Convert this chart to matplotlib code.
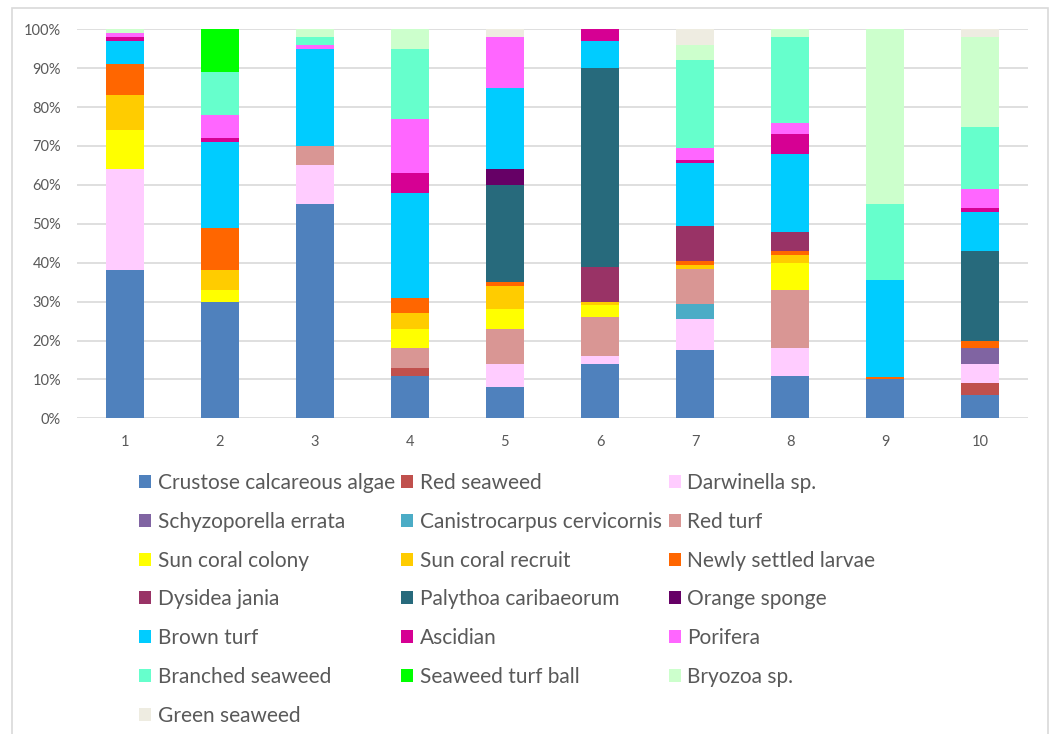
import matplotlib.pyplot as plt
from matplotlib.patches import Rectangle
import numpy as np

plt.rcParams["font.family"] = ["Lato", "DejaVu Sans"]

sites = ["1", "2", "3", "4", "5", "6", "7", "8", "9", "10"]

# percent cover per site, stacked bottom to top in this order
crustose_calcareous_algae = [38, 30, 55, 11, 8, 14, 17.5, 11, 10, 6]
red_seaweed = [0, 0, 0, 2, 0, 0, 0, 0, 0, 3]
darwinella = [26, 0, 10, 0, 6, 2, 8, 7, 0, 5]
schyzoporella = [0, 0, 0, 0, 0, 0, 0, 0, 0, 4]
canistrocarpus = [0, 0, 0, 0, 0, 0, 4, 0, 0, 0]
red_turf = [0, 0, 5, 5, 9, 10, 9, 15, 0, 0]
sun_coral_colony = [10, 3, 0, 5, 5, 3, 0, 7, 0, 0]
sun_coral_recruit = [9, 5, 0, 4, 6, 1, 1, 2, 0, 0]
newly_settled_larvae = [8, 11, 0, 4, 1, 0, 1, 1, 0.5, 2]
dysidea_jania = [0, 0, 0, 0, 0, 9, 9, 5, 0, 0]
palythoa = [0, 0, 0, 0, 25, 51, 0, 0, 0, 23]
orange_sponge = [0, 0, 0, 0, 4, 0, 0, 0, 0, 0]
brown_turf = [6, 22, 25, 27, 21, 7, 16, 20, 25, 10]
ascidian = [1, 1, 0, 5, 0, 3, 1, 5, 0, 1]
porifera = [1, 6, 1, 14, 13, 0, 3, 3, 0, 5]
branched_seaweed = [0, 11, 2, 18, 0, 0, 22.5, 22, 19.5, 16]
seaweed_turf_ball = [0, 11, 0, 0, 0, 0, 0, 0, 0, 0]
bryozoa = [1, 0, 2, 5, 0, 0, 4, 2, 45, 23]
green_seaweed = [0, 0, 0, 0, 2, 0, 4, 0, 0, 2]

groups = [
    ("Crustose calcareous algae", crustose_calcareous_algae, "#4F81BD"),
    ("Red seaweed", red_seaweed, "#C0504D"),
    ("Darwinella sp.", darwinella, "#FFCCFF"),
    ("Schyzoporella errata", schyzoporella, "#8064A2"),
    ("Canistrocarpus cervicornis", canistrocarpus, "#4BACC6"),
    ("Red turf", red_turf, "#D99694"),
    ("Sun coral colony", sun_coral_colony, "#FFFF00"),
    ("Sun coral recruit", sun_coral_recruit, "#FFCC00"),
    ("Newly settled larvae", newly_settled_larvae, "#FF6600"),
    ("Dysidea jania", dysidea_jania, "#993366"),
    ("Palythoa caribaeorum", palythoa, "#276A7C"),
    ("Orange sponge", orange_sponge, "#660066"),
    ("Brown turf", brown_turf, "#00CCFF"),
    ("Ascidian", ascidian, "#D60093"),
    ("Porifera", porifera, "#FF66FF"),
    ("Branched seaweed", branched_seaweed, "#66FFCC"),
    ("Seaweed turf ball", seaweed_turf_ball, "#00FF00"),
    ("Bryozoa sp.", bryozoa, "#CCFFCC"),
    ("Green seaweed", green_seaweed, "#EEECE1"),
]

fig = plt.figure(figsize=(10.53, 7.34), dpi=100)
ax = fig.add_axes([0.0731, 0.4301, 0.9031, 0.530])

x = np.arange(len(sites))
bottom = np.zeros(len(sites))
handles = []
for name, vals, color in groups:
    vals = np.array(vals, dtype=float)
    b = ax.bar(x, vals, 0.40, bottom=bottom, color=color, label=name, zorder=3)
    handles.append(b)
    bottom += vals

ax.set_xlim(-0.5, len(sites) - 0.5)
ax.set_ylim(0, 100)
ax.set_yticks(range(0, 101, 10))
ax.set_yticklabels([f"{v}%" for v in range(0, 101, 10)])
ax.set_xticks(x)
ax.set_xticklabels(sites)
ax.tick_params(length=0, labelsize=10.5, colors="#595959")
ax.tick_params(axis="x", pad=12)
ax.tick_params(axis="y", pad=11.5)
ax.yaxis.grid(True, color="#D9D9D9", linewidth=1.2, zorder=0)
for s in ax.spines.values():
    s.set_visible(False)

# legend is filled row by row, so reorder for matplotlib's column fill
ncol = 3
order = [i for c in range(ncol) for i in range(c, len(handles), ncol)]
leg = fig.legend(
    [handles[i] for i in order],
    [groups[i][0] for i in order],
    ncol=ncol,
    loc="upper left",
    bbox_to_anchor=(0.132, 0.3555),
    frameon=False,
    fontsize=15,
    handlelength=0.58,
    handleheight=0.58,
    handletextpad=0.33,
    labelspacing=0.90,
    columnspacing=0.3,
    borderpad=0,
    borderaxespad=0,
)
for t in leg.get_texts():
    t.set_color("#595959")

# chart area outline
fig.patches.append(Rectangle((0.011, -0.01), 0.984, 0.999, transform=fig.transFigure,
                             fill=False, edgecolor="#D9D9D9", linewidth=1.2))

fig.savefig("out.png", dpi=100)
